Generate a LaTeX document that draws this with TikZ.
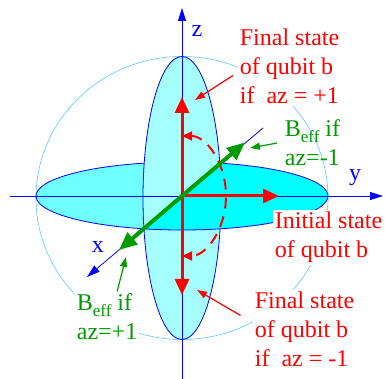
\documentclass[tikz,border=0pt]{standalone}
\usepackage{fontspec}
\setmainfont{Liberation Serif}
\usepackage{tikz}
\usetikzlibrary{arrows.meta, positioning, calc}
\definecolor{spherecol}{RGB}{90,200,255}
\definecolor{backcyan}{RGB}{112,255,255}
\definecolor{vertcyan}{RGB}{165,255,255}
\definecolor{frontcyan}{RGB}{0,255,255}
\definecolor{beffgreen}{RGB}{0,155,0}
\newcommand{\statefont}{\fontsize{24}{29}\selectfont}
\newcommand{\beff}{B\raisebox{-6pt}{\fontsize{17}{17}\selectfont eff}}
\tikzset{
	axisline/.style={blue, line width=0.8pt, -{Triangle[length=13pt,width=8pt]}}
}
\tikzset{
	disc/.style={draw=blue, line width=0.8pt}
}
\tikzset{
	redtext/.style={font=\statefont\color{red}, align=left, fill=white, inner sep=2pt, anchor=north west}
}
\tikzset{
	greentext/.style={font=\statefont\color{beffgreen}, align=left, inner sep=2pt, anchor=north west}
}
\tikzset{
	statearrow/.style={red, line width=3pt, -{Triangle[length=16pt,width=14pt]}}
}
\tikzset{
	beffarrow/.style={beffgreen, line width=4pt, -{Triangle[length=18pt,width=15pt]}}
}
\tikzset{
	pointer/.style={line width=1.2pt, -{Triangle[length=10pt,width=7pt]}}
}

\begin{document}
\begin{tikzpicture}[line width=0.8pt, x=1pt, y=1pt]
      \useasboundingbox (-182,-183) rectangle (203,196);
      % sphere
      \draw[spherecol, line width=0.6pt] (0,-2) ellipse [x radius=146, y radius=141.5];
      % xy disc, back half
      \fill[backcyan] (38.5,32.8) arc[start angle=74.7, end angle=254.7, x radius=146, y radius=34] -- cycle;
      \draw[disc] (38.5,32.8) arc[start angle=74.7, end angle=254.7, x radius=146, y radius=34];
      % xz disc
      \draw[disc, fill=vertcyan] (0,-2) ellipse [x radius=39, y radius=141.5];
      % xy disc, front half
      \fill[frontcyan] (-38.5,-32.8) arc[start angle=254.7, end angle=434.7, x radius=146, y radius=34] -- cycle;
      \draw[disc] (-38.5,-32.8) arc[start angle=254.7, end angle=434.7, x radius=146, y radius=34];
      % axes
      \coordinate (O) at (0,0);
      \coordinate (yleft) at (-172,0);
      \coordinate (yend) at (201,0);
      \coordinate (zlow) at (0,-183);
      \coordinate (zend) at (0,188);
      \coordinate (xback) at (81,68);
      \coordinate (xend) at (-95,-81);
      \draw[axisline] (yleft) -- (yend);
      \draw[axisline] (zlow) -- (zend);
      \draw[axisline] (xback) -- (xend);
      \node[font=\statefont\color{blue}, anchor=base] (zlabel) at (15,159) {z};
      \node[font=\statefont\color{blue}, anchor=base] (ylabel) at (173,15) {y};
      \node[font=\statefont\color{blue}, anchor=base] (xlabel) at (-84,-57) {x};
      % qubit b states
      \coordinate (upstate) at (0,99);
      \coordinate (downstate) at (0,-99);
      \coordinate (initstate) at (97,0);
      \draw[statearrow] (O) -- (upstate);
      \draw[statearrow] (O) -- (downstate);
      \draw[statearrow] (O) -- (initstate);
      \draw[red, line width=2pt, dash pattern=on 11pt off 8pt,
        {Triangle[length=10pt,width=9pt]}-{Triangle[length=10pt,width=9pt]}]
        (0,60) arc[start angle=90, end angle=-90, x radius=44, y radius=60];
      % effective field
      \coordinate (beffup) at (63,53.5);
      \coordinate (beffdown) at (-63,-54);
      \draw[beffarrow] (O) -- (beffup);
      \draw[beffarrow] (O) -- (beffdown);
      % labels
      \node[redtext] (finalplus) at (55.5,169.4) {Final state\\of qubit b\\if~ az = +1};
      \node[redtext] (initial) at (90.5,-13.6) {Initial state\\of qubit b};
      \node[redtext] (finalminus) at (70.5,-93.6) {Final state\\of qubit b\\if~ az = -1};
      \node[greentext] (beffminus) at (100.5,78.4) {\beff{} if\\az=-1};
      \node[greentext, fill=white] (beffplus) at (-107.5,-95.6) {\beff{} if\\az=+1};
      % pointers
      \coordinate (upmark) at (13,96);
      \coordinate (downmark) at (15,-94);
      \coordinate (beffupmark) at (68,48);
      \coordinate (beffdownmark) at (-56,-61);
      \draw[pointer, red] ([xshift=-4.5pt, yshift=-9pt]finalplus.west) -- (upmark);
      \draw[pointer, red] ([xshift=-12pt, yshift=14pt]finalminus.west) -- (downmark);
      \draw[pointer, beffgreen] ([xshift=-5.5pt]beffminus.west) -- (beffupmark);
      \draw[pointer, beffgreen] ([xshift=10pt]beffplus.north) -- (beffdownmark);
\end{tikzpicture}
\end{document}
